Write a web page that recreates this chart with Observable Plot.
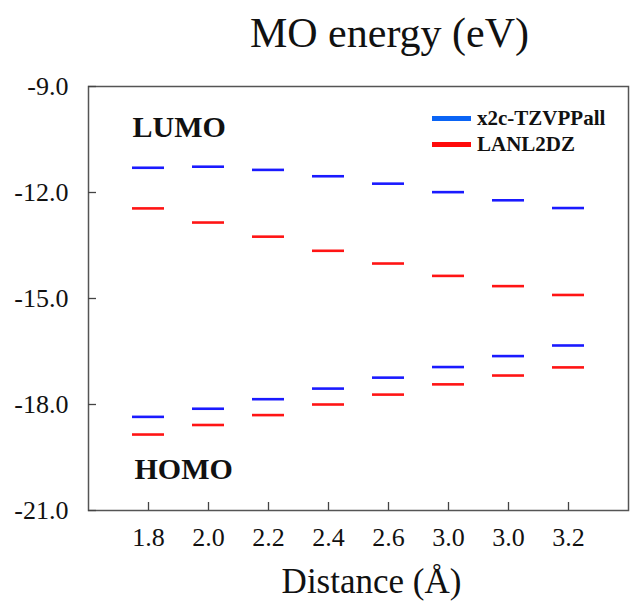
<!DOCTYPE html>
<html><head><meta charset="utf-8">
<script src="https://cdn.jsdelivr.net/npm/d3@7"></script>
<script src="https://cdn.jsdelivr.net/npm/@observablehq/plot@0.6"></script>
<style>
body{margin:0;background:#fff;}
#wrap{position:relative;width:630px;height:601px;font-family:"Liberation Serif","Times New Roman",serif;}
#wrap svg text{font-family:"Liberation Serif","Times New Roman",serif;}
.leg{position:absolute;left:432px;height:20px;line-height:20px;display:flex;align-items:center;font-weight:bold;font-size:21px;color:#111;white-space:nowrap;}
.sw{width:39px;height:5px;margin-right:6px;}
</style></head><body><div id="wrap"></div>
<script>
const distanceLabels = ["1.8","2.0","2.2","2.4","2.6","3.0","3.0","3.2"];
const lumoTZVPPall = [-11.30,-11.27,-11.36,-11.54,-11.75,-11.99,-12.22,-12.44];
const lumoLANL2DZ  = [-12.45,-12.85,-13.25,-13.65,-14.01,-14.36,-14.65,-14.90];
const homoTZVPPall = [-18.35,-18.12,-17.85,-17.55,-17.24,-16.94,-16.63,-16.33];
const homoLANL2DZ  = [-18.85,-18.58,-18.30,-18.00,-17.72,-17.43,-17.18,-16.95];
const yTicks = [-21,-18,-15,-12,-9];
const seriesNames = ["x2c-TZVPPall","LANL2DZ"];
const seriesColors = ["#1a1aff","#ff1414"];
const legendColors = ["#0a64f5","#ff0a0a"];

const rows = [];
distanceLabels.forEach((d, i) => {
  rows.push({i, set: seriesNames[0], e: lumoTZVPPall[i]});
  rows.push({i, set: seriesNames[1], e: lumoLANL2DZ[i]});
  rows.push({i, set: seriesNames[0], e: homoTZVPPall[i]});
  rows.push({i, set: seriesNames[1], e: homoLANL2DZ[i]});
});

const font = "Liberation Serif";
const plot = Plot.plot({
  width: 630, height: 601,
  marginTop: 86, marginLeft: 88, marginRight: 2, marginBottom: 91,
  style: {fontFamily: font, background: "#fff", color: "#111"},
  x: {type: "band", domain: d3.range(distanceLabels.length), paddingInner: 0.47, paddingOuter: 0.733, label: null, axis: null},
  y: {domain: [-21, -9], label: null, axis: null},
  color: {domain: seriesNames, range: seriesColors},
  marks: [
    Plot.frame({stroke: "#555", strokeWidth: 1.5}),
    Plot.axisY(yTicks, {tickSize: 0, tickPadding: 20, tickFormat: d => d.toFixed(1), fontSize: 26, fontFamily: font, label: null}),
    Plot.axisY(yTicks, {tickSize: 8, dx: 8, tickFormat: () => "", label: null, stroke: "#444", strokeWidth: 1.3}),
    Plot.axisX({tickSize: 0, tickPadding: 17, tickFormat: i => distanceLabels[i], fontSize: 26, fontFamily: font, label: null}),
    Plot.axisX({tickSize: 8, dy: -8, tickFormat: () => "", label: null, stroke: "#444", strokeWidth: 1.3}),
    Plot.tickY(rows, {x: "i", y: "e", stroke: "set", strokeWidth: 2.6}),
    Plot.text(["MO energy (eV)"], {frameAnchor: "top", dx: 31, dy: -53, fontSize: 42, fontFamily: font, lineAnchor: "middle", fill: "#111"}),
    Plot.text(["Distance (Å)"], {frameAnchor: "bottom", dx: 13, dy: 71, fontSize: 35, fontFamily: font, lineAnchor: "middle", fill: "#111"}),
    Plot.text(["LUMO"], {frameAnchor: "top-left", textAnchor: "start", dx: 44, dy: 41, fontSize: 30, fontFamily: font, fontWeight: "bold", lineAnchor: "middle", fill: "#111"}),
    Plot.text(["HOMO"], {frameAnchor: "bottom-left", textAnchor: "start", dx: 46, dy: -41, fontSize: 30, fontFamily: font, fontWeight: "bold", lineAnchor: "middle", fill: "#111"})
  ]
});
const wrap = document.getElementById("wrap");
wrap.appendChild(plot);
seriesNames.forEach((name, k) => {
  const div = document.createElement("div");
  div.className = "leg";
  div.style.top = (108 + 26 * k) + "px";
  const sw = document.createElement("div");
  sw.className = "sw";
  sw.style.background = legendColors[k];
  div.appendChild(sw);
  div.appendChild(document.createTextNode(name));
  wrap.appendChild(div);
});
</script></body></html>
